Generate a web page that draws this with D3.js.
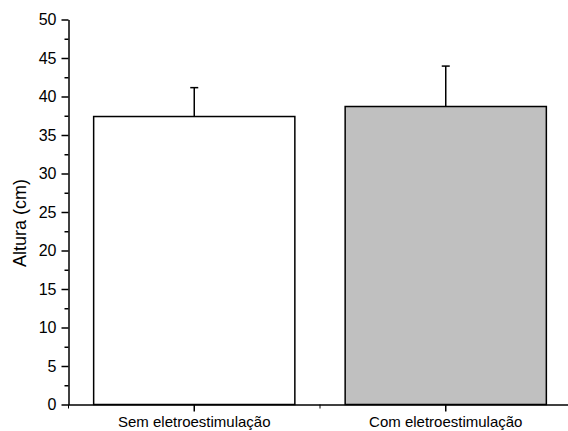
<!DOCTYPE html>
<html>
<head>
<meta charset="utf-8">
<script src="https://cdn.jsdelivr.net/npm/d3@7"></script>
<style>
  body { margin: 0; background: #fff; }
  text { font-family: "Liberation Sans", Arial, sans-serif; fill: #000; }
</style>
</head>
<body>
<div id="chart"></div>
<script>
var categories = ["Sem eletroestimulação", "Com eletroestimulação"];
var means = [37.4, 38.7];
var errors = [3.75, 5.25];
var fills = ["#ffffff", "#c0c0c0"];
var yTicks = [0, 5, 10, 15, 20, 25, 30, 35, 40, 45, 50];
var yMinorTicks = [2.5, 7.5, 12.5, 17.5, 22.5, 27.5, 32.5, 37.5, 42.5, 47.5];

var width = 568, height = 431;

var svg = d3.select("#chart").append("svg")
    .attr("width", width)
    .attr("height", height);

var x = d3.scaleBand().domain(categories).range([68.5, 571.5]).paddingInner(0.2).paddingOuter(0.1);
var y = d3.scaleLinear().domain([0, 50]).range([404.5, 19.5]);

// bars
svg.selectAll(".bar")
  .data(categories)
  .enter().append("rect")
    .attr("class", "bar")
    .attr("x", function(d) { return x(d); })
    .attr("y", function(d, i) { return y(means[i]); })
    .attr("width", x.bandwidth())
    .attr("height", function(d, i) { return y(0) - y(means[i]); })
    .style("fill", function(d, i) { return fills[i]; })
    .style("stroke", "#000")
    .style("stroke-width", 1.5);

// error bars (upper only)
var eb = svg.selectAll(".err")
  .data(categories)
  .enter().append("g")
    .attr("class", "err")
    .attr("transform", function(d) { return "translate(" + (x(d) + x.bandwidth() / 2) + ",0)"; });

eb.append("line")
    .attr("x1", 0).attr("x2", 0)
    .attr("y1", function(d, i) { return y(means[i]); })
    .attr("y2", function(d, i) { return y(means[i] + errors[i]); })
    .style("stroke", "#000").style("stroke-width", 1.5);

eb.append("line")
    .attr("x1", -4).attr("x2", 4)
    .attr("y1", function(d, i) { return y(means[i] + errors[i]); })
    .attr("y2", function(d, i) { return y(means[i] + errors[i]); })
    .style("stroke", "#000").style("stroke-width", 1.5);

// y axis
var yAxis = svg.append("g")
    .attr("transform", "translate(68.5,0)")
    .call(d3.axisLeft(y).tickValues(yTicks).tickSize(7).tickPadding(5).tickSizeOuter(0));
yAxis.selectAll("text").style("font-size", "16px");

svg.append("g")
    .attr("transform", "translate(68.5,0)")
    .call(d3.axisLeft(y).tickValues(yMinorTicks).tickSize(4).tickFormat("").tickSizeOuter(0))
    .select(".domain").remove();

// x axis
var xAxis = svg.append("g")
    .attr("transform", "translate(0," + y(0) + ")")
    .call(d3.axisBottom(x).tickSize(7).tickPadding(5).tickSizeOuter(0));
xAxis.selectAll("text").style("font-size", "15px");

// minor x ticks on band boundaries
var bounds = [x.range()[0], (x(categories[0]) + x.bandwidth() + x(categories[1])) / 2];
svg.selectAll(".xminor")
  .data(bounds)
  .enter().append("line")
    .attr("x1", function(d) { return d; }).attr("x2", function(d) { return d; })
    .attr("y1", y(0)).attr("y2", y(0) + 4)
    .style("stroke", "#000");

svg.selectAll(".domain, .tick line").style("stroke", "#000").style("stroke-width", 1.5);

// y label
svg.append("text")
    .attr("transform", "translate(26,223) rotate(-90)")
    .attr("text-anchor", "middle")
    .style("font-size", "18px")
    .text("Altura (cm)");
</script>
</body>
</html>
